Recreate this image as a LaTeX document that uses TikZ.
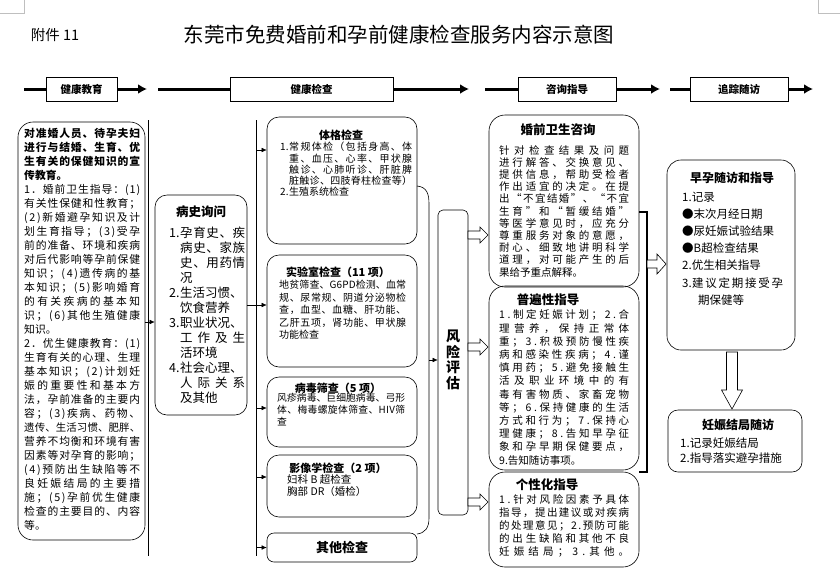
\documentclass[tikz,border=0pt]{standalone}
\usepackage{fontspec}
\setmainfont{Noto Sans CJK SC}
\usepackage{tikz}
\usetikzlibrary{positioning,arrows.meta}

% spread the characters of one line over a given width
\def\jzA#1{#1\jzB}
\def\jzB#1{\ifx\relax#1\else\hfill#1\expandafter\jzB\fi}
\newcommand\jz[2]{\hbox to #1{\jzA#2\relax}}
\newcommand\hang[2]{\makebox[#1][l]{#2}}

\begin{document}
\begin{tikzpicture}[x=1pt,y=-1pt]
\tikzstyle{rbox}=[draw,rounded corners=12pt,line width=.6pt,inner sep=0pt]
\tikzstyle{barbox}=[draw,line width=.6pt,fill=white,minimum height=24pt,inner sep=0pt,font=\bfseries\fontsize{10.5}{12}\selectfont]
\tikzstyle{barline}=[line width=3pt]
\tikzstyle{bararr}=[line width=3pt,-{Latex[length=9pt,width=10pt]}]
\tikzstyle{arr}=[line width=.5pt,-{Latex[length=5pt,width=4.5pt]}]
\tikzstyle{hollow}=[draw,fill=white,line width=.6pt,line join=miter]
\tikzstyle{body}=[anchor=west,align=left,inner sep=0pt]
\tikzstyle{ttl}=[inner sep=0pt,font=\bfseries\fontsize{11}{13}\selectfont]
\useasboundingbox (0,0) rectangle (840,582);

% page corners
\draw[gray!50,line width=.4pt] (0,13) -- (24,13) -- (24,0);
\draw[gray!50,line width=.4pt] (840,13) -- (818,13) -- (818,0);

\node[font=\fontsize{14.5}{16}\selectfont] (att) at (55,35) {附件 11};
\node[font=\fontsize{20.5}{24}\selectfont] (title) at (399,35) {东莞市免费婚前和孕前健康检查服务内容示意图};

% top bar
\node[barbox,minimum width=71pt] (edu) at (81.5,89) {健康教育};
\node[barbox,minimum width=163pt] (chk) at (311.5,89) {健康检查};
\node[barbox,minimum width=98pt] (cons) at (567,89) {咨询指导};
\node[barbox,minimum width=98pt] (fol) at (739,89) {追踪随访};
\coordinate (edu-in) at (24,89);  \coordinate (edu-out) at (147,89);
\coordinate (chk-in) at (158,89);  \coordinate (chk-out) at (469,89);
\coordinate (cons-in) at (485,89); \coordinate (cons-out) at (660,89);
\coordinate (fol-in) at (670,89);  \coordinate (fol-out) at (813,89);
\foreach \s in {edu,chk,cons,fol}{
  \draw[barline] (\s-in) -- (\s);
  \draw[bararr] (\s) -- (\s-out);
}

% health education
\node[rbox,rounded corners=15pt,minimum width=127pt,minimum height=418pt] (edubox) at (81.5,331) {};
\node[body,font=\fontsize{10.8}{14}\selectfont] (edutxt) at (24,329.5) {%
{\bfseries\jz{116pt}{对准婚人员、待孕夫妇}}\\
{\bfseries\jz{116pt}{进行与结婚、生育、优}}\\
{\bfseries\jz{116pt}{生有关的保健知识的宣}}\\
{\bfseries 传教育。}\\
\jz{116pt}{1．婚前卫生指导：(1)}\\
\jz{116pt}{有关性保健和性教育；}\\
\jz{116pt}{(2)新婚避孕知识及计}\\
\jz{116pt}{划生育指导；(3)受孕}\\
\jz{116pt}{前的准备、环境和疾病}\\
\jz{116pt}{对后代影响等孕前保健}\\
\jz{116pt}{知识；(4)遗传病的基}\\
\jz{116pt}{本知识；(5)影响婚育}\\
\jz{116pt}{的有关疾病的基本知}\\
\jz{116pt}{识；(6)其他生殖健康}\\
知识。\\
\jz{116pt}{2．优生健康教育：(1)}\\
\jz{116pt}{生育有关的心理、生理}\\
\jz{116pt}{基本知识；(2)计划妊}\\
\jz{116pt}{娠的重要性和基本方}\\
\jz{116pt}{法，孕前准备的主要内}\\
\jz{116pt}{容；(3)疾病、药物、}\\
{\fontsize{10.4}{14}\selectfont\jz{116pt}{遗传、生活习惯、肥胖、}}\\
\jz{116pt}{营养不均衡和环境有害}\\
\jz{116pt}{因素等对孕育的影响；}\\
\jz{116pt}{(4)预防出生缺陷等不}\\
\jz{116pt}{良妊娠结局的主要措}\\
\jz{116pt}{施；(5)孕前优生健康}\\
\jz{116pt}{检查的主要目的、内容}\\
等。};

% history
\draw[line width=.6pt] (148,120) -- (148,556);
\node[rbox,minimum width=92pt,minimum height=220pt] (hist) at (201,305) {};
\node[ttl,font=\bfseries\fontsize{12.5}{14}\selectfont] (histt) at (201,212) {病史询问};
\node[body,font=\fontsize{12.5}{15}\selectfont] (histb) at (169,315.5) {%
\hang{11pt}{1.}\jz{65pt}{孕育史、疾}\\
\hspace*{11pt}\jz{65pt}{病史、家族}\\
\hspace*{11pt}\jz{65pt}{史、用药情}\\
\hspace*{11pt}况\\
\hang{11pt}{2.}生活习惯、\\
\hspace*{11pt}饮食营养\\
\hang{11pt}{3.}职业状况、\\
\hspace*{11pt}\jz{65pt}{工作及生}\\
\hspace*{11pt}活环境\\
\hang{11pt}{4.}社会心理、\\
\hspace*{11pt}\jz{65pt}{人际关系}\\
\hspace*{11pt}及其他};
\draw[arr] (edubox.east |- 0,322) -- (hist.west |- 0,322);

% examinations
\node[rbox,minimum width=150pt,minimum height=127pt] (phys) at (342,180.5) {};
\node[ttl] (physt) at (341,135) {体格检查};
\node[body,font=\fontsize{10}{11.25}\selectfont] (physb) at (280,169.5) {%
\hang{9pt}{1.}\jz{123pt}{常规体检（包括身高、体}\\
\hspace*{9pt}\jz{123pt}{重、血压、心率、甲状腺}\\
\hspace*{9pt}\jz{123pt}{触诊、心肺听诊、肝脏脾}\\
\hspace*{9pt}\jz{123pt}{脏触诊、四肢脊柱检查等）}\\
\hang{9pt}{2.}生殖系统检查};

\node[rbox,minimum width=150pt,minimum height=112pt] (lab) at (342,311) {};
\node[ttl] (labt) at (338,272) {实验室检查（11 项）};
\node[body,font=\fontsize{10}{12.5}\selectfont] (labb) at (279,310) {%
\jz{127pt}{地贫筛查、G6PD检测、血常}\\
\jz{127pt}{规、尿常规、阴道分泌物检}\\
\jz{127pt}{查，血型、血糖、肝功能、}\\
\jz{127pt}{乙肝五项，肾功能、甲状腺}\\
功能检查};

\node[rbox,minimum width=150pt,minimum height=70pt] (virus) at (342,412) {};
\node[ttl] (virust) at (338,388) {病毒筛查（5 项）};
\node[body,font=\fontsize{9.8}{12}\selectfont] (virusb) at (277,410) {%
\jz{128pt}{风疹病毒、巨细胞病毒、弓形}\\
\jz{128pt}{体、梅毒螺旋体筛查、HIV筛}\\
查};

\node[rbox,minimum width=150pt,minimum height=62pt] (img) at (342,486) {};
\node[ttl] (imgt) at (338,468) {影像学检查（2 项）};
\node[body,font=\fontsize{10.5}{12}\selectfont] (imgb) at (287,486) {妇科 B 超检查\\胸部 DR（婚检）};

\node[rbox,rounded corners=7pt,minimum width=150pt,minimum height=29pt,font=\bfseries\fontsize{13}{15}\selectfont] (other) at (342,547.5) {其他检查};

% bus to the examinations
\draw[line width=.6pt] (256,120) -- (256,556);
\draw[line width=.6pt] (hist.east |- 0,305) -- (256,305);
\draw[arr] (256,150) -- (phys.west |- 0,150);
\draw[arr] (256,305) -- (lab.west |- 0,305);
\draw[arr] (256,408) -- (virus.west |- 0,408);
\draw[arr] (256,477) -- (img.west |- 0,477);
\draw[arr] (256,547.5) -- (other.west);

% bracket to risk assessment
\draw[line width=.6pt] (417,186) .. controls (427,187) and (429,194) .. (429,204) -- (429,518) .. controls (429,528) and (425,533) .. (417,534);
\node[draw,rounded corners=5pt,line width=.6pt,minimum width=30pt,minimum height=305pt] (risk) at (453,362.5) {};
\node[align=center,inner sep=0pt,font=\bfseries\fontsize{14}{15.5}\selectfont] (riskt) at (453,360) {风\\险\\评\\估};
\draw[arr] (429,360) -- (risk.west |- 0,360);

% counselling
\node[rbox,rounded corners=16pt,minimum width=150pt,minimum height=172pt] (pre) at (564,201) {};
\node[ttl,font=\bfseries\fontsize{12.5}{14}\selectfont] (pret) at (558,130) {婚前卫生咨询};
\node[body,font=\fontsize{10.5}{12.2}\selectfont] (preb) at (499,211) {%
\jz{130pt}{针对检查结果及问题}\\
\jz{130pt}{进行解答、交换意见、}\\
\jz{130pt}{提供信息，帮助受检者}\\
\jz{130pt}{作出适宜的决定。在提}\\
\jz{130pt}{出“不宜结婚”、“不宜}\\
\jz{130pt}{生育”和“暂缓结婚”}\\
\jz{130pt}{等医学意见时，应充分}\\
\jz{130pt}{尊重服务对象的意愿，}\\
\jz{130pt}{耐心、细致地讲明科学}\\
\jz{130pt}{道理，对可能产生的后}\\
果给予重点解释。};

\node[rbox,rounded corners=16pt,minimum width=150pt,minimum height=184pt] (gen) at (564,378) {};
\node[ttl,font=\bfseries\fontsize{12.5}{14}\selectfont] (gent) at (548,300) {普遍性指导};
\node[body,font=\fontsize{10.5}{13.2}\selectfont] (genb) at (499,387.5) {%
\jz{130pt}{1.制定妊娠计划；2.合}\\
\jz{130pt}{理营养，保持正常体}\\
\jz{130pt}{重；3.积极预防慢性疾}\\
\jz{130pt}{病和感染性疾病；4.谨}\\
\jz{130pt}{慎用药；5.避免接触生}\\
\jz{130pt}{活及职业环境中的有}\\
\jz{130pt}{毒有害物质、家畜宠物}\\
\jz{130pt}{等；6.保持健康的生活}\\
\jz{130pt}{方式和行为；7.保持心}\\
\jz{130pt}{理健康；8.告知早孕征}\\
\jz{130pt}{象和孕早期保健要点，}\\
9.告知随访事项。};

\node[rbox,rounded corners=16pt,minimum width=150pt,minimum height=95pt] (ind) at (564,519.5) {};
\node[ttl,font=\bfseries\fontsize{12.5}{14}\selectfont] (indt) at (547,485) {个性化指导};
\node[body,font=\fontsize{10.5}{13}\selectfont] (indb) at (499,526) {%
\jz{130pt}{1.针对风险因素予具体}\\
\jz{130pt}{指导，提出建议或对疾病}\\
\jz{130pt}{的处理意见；2.预防可能}\\
\jz{130pt}{的出生缺陷和其他不良}\\
\jz{130pt}{妊娠结局；3.其他。}};

% hollow arrows out of the risk box
\foreach \y in {235,347,502}
  \draw[hollow] (468,\y-4) -- (480,\y-4) -- (480,\y-8) -- (488,\y) -- (480,\y+8) -- (480,\y+4) -- (468,\y+4) -- cycle;

% follow up
\draw[line width=1.4pt] (pre.east |- 0,212) -- (647,212) -- (647,472) -- (gen.east |- 0,472);
\node[rbox,rounded corners=14pt,minimum width=128pt,minimum height=190pt] (early) at (731,255) {};
\node[ttl,font=\bfseries\fontsize{12}{14}\selectfont] (earlyt) at (732,178) {早孕随访和指导};
\node[body,font=\fontsize{11.5}{17.2}\selectfont] (earlyb) at (682,248.5) {%
1.记录\\
●末次月经日期\\
●尿妊娠试验结果\\
●B超检查结果\\
2.优生相关指导\\
\hang{10pt}{3.}\jz{91pt}{建议定期接受孕}\\
\hspace*{16pt}期保健等};
\draw[hollow] (647,260) -- (657,260) -- (657,254) -- (666,264) -- (657,274) -- (657,268) -- (647,268) -- cycle;

\node[rbox,rounded corners=10pt,minimum width=134pt,minimum height=62pt] (outc) at (735,441) {};
\node[ttl,font=\bfseries\fontsize{12}{14}\selectfont] (outct) at (738,425) {妊娠结局随访};
\node[body,font=\fontsize{11.5}{15}\selectfont] (outcb) at (680,450.5) {1.记录妊娠结局\\2.指导落实避孕措施};
\draw[hollow] (726.5,352) -- (737.5,352) -- (737.5,390) -- (742.5,390) -- (732,409) -- (721.5,390) -- (726.5,390) -- cycle;
\end{tikzpicture}
\end{document}
